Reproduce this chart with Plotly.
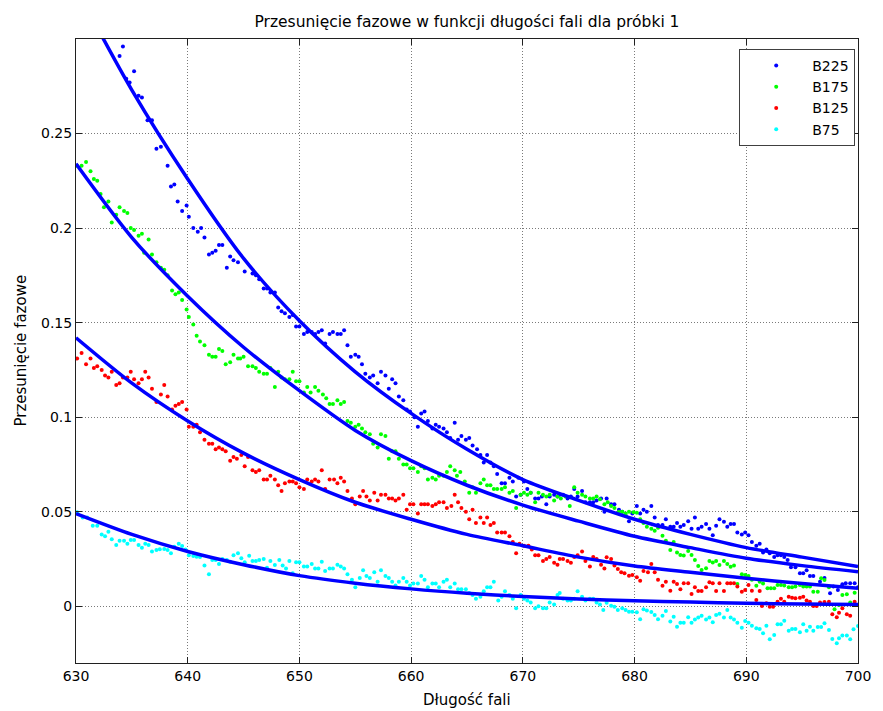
import plotly.graph_objects as go

# ---- data ----
b225_x = [633.9,634.2,634.5,634.8,635.2,635.6,635.9,636.4,636.8,637.2,637.6,638.2,638.5,638.8,639.1,639.5,639.9,640.1,640.5,640.9,
          641.2,641.5,641.9,642.2,642.5,642.8,643.1,643.5,643.8,644.1,644.5,645.1,645.8,646.1,646.4,646.8,647.1,647.4,647.8,648.1,
          648.4,648.7,649.1,649.4,649.7,650.0,650.4,650.7,651.1,651.4,651.7,652.0,652.3,652.7,653.0,653.4,653.7,654.0,654.3,654.6,
          655.0,655.3,655.6,655.9,656.3,656.6,657.0,657.3,657.7,658.0,658.3,658.6,658.9,659.3,659.6,659.9,660.3,660.6,660.9,661.2,
          661.5,661.9,662.2,662.5,662.9,663.2,663.5,663.9,664.2,664.5,664.9,665.2,665.5,665.9,666.2,666.5,666.8,667.1,667.4,667.7,
          668.1,668.4,668.8,669.1,669.4,669.6,669.8,670.1,670.4,670.7,671.1,671.4,671.7,672.1,672.4,672.8,673.1,673.3,673.6,674.0,
          674.3,674.6,674.9,675.3,675.6,676.0,676.3,676.6,677.0,677.3,677.5,677.9,678.2,678.6,678.9,679.2,679.5,679.8,680.2,680.5,
          680.8,681.1,681.5,681.8,682.1,682.5,682.8,683.2,683.5,683.8,684.1,684.4,684.8,685.1,685.4,685.7,686.0,686.4,686.7,687.0,
          687.3,687.6,688.0,688.3,688.6,688.9,689.2,689.6,689.9,690.2,690.5,690.9,691.2,691.5,691.8,692.1,692.5,692.8,693.1,693.4,
          693.7,694.0,694.4,694.8,695.1,695.4,695.7,696.0,696.6,697.0,697.5,697.8,698.2,698.6,698.9,699.3,699.7,700.0]
b225_y = [0.291,0.296,0.279,0.277,0.283,0.270,0.269,0.257,0.257,0.242,0.243,0.233,0.222,0.223,0.214,0.209,0.212,0.206,0.200,0.198,
          0.200,0.195,0.186,0.187,0.188,0.191,0.191,0.179,0.185,0.183,0.182,0.177,0.176,0.175,0.173,0.168,0.168,0.166,0.166,0.158,
          0.156,0.155,0.153,0.154,0.148,0.148,0.144,0.145,0.145,0.144,0.145,0.146,0.139,0.144,0.145,0.144,0.144,0.146,0.138,0.132,
          0.133,0.132,0.128,0.123,0.121,0.122,0.118,0.124,0.122,0.115,0.120,0.118,0.111,0.109,0.104,0.103,0.100,0.095,0.102,0.103,
          0.098,0.094,0.096,0.095,0.094,0.092,0.089,0.097,0.088,0.090,0.088,0.089,0.085,0.083,0.080,0.076,0.080,0.076,0.074,0.070,
          0.065,0.065,0.068,0.066,0.058,0.068,0.059,0.066,0.062,0.060,0.057,0.057,0.058,0.054,0.058,0.059,0.058,0.059,0.059,0.057,
          0.058,0.062,0.058,0.061,0.055,0.055,0.055,0.056,0.057,0.050,0.057,0.054,0.054,0.051,0.050,0.048,0.045,0.049,0.053,0.049,
          0.051,0.050,0.053,0.047,0.043,0.043,0.046,0.042,0.042,0.044,0.042,0.043,0.045,0.041,0.047,0.041,0.042,0.0435,0.041,0.0375,
          0.0426,0.046,0.0447,0.042,0.0435,0.0435,0.039,0.038,0.039,0.0375,0.034,0.032,0.033,0.0285,0.030,0.028,0.026,0.027,0.027,0.026,
          0.0245,0.0206,0.0206,0.0174,0.0174,0.019,0.016,0.016,0.013,0.015,0.0069,0.0104,0.0086,0.0116,0.0122,0.0122,0.0122,0.010]

b175_x = [630.1,630.5,630.9,631.3,631.6,631.9,632.2,632.5,632.9,633.2,633.6,633.9,634.3,634.6,634.9,635.2,635.6,635.9,636.1,636.5,
          636.8,637.2,637.6,637.9,638.2,638.6,638.9,639.2,639.5,639.9,640.1,640.5,640.8,641.1,641.5,641.9,642.2,642.5,642.8,643.1,
          643.4,643.8,644.1,644.5,644.7,645.0,645.4,645.8,646.1,646.4,646.8,647.1,647.4,647.8,648.1,648.4,648.7,649.1,649.4,649.7,
          650.0,650.4,650.7,651.0,651.4,651.7,652.1,652.4,652.7,653.0,653.4,653.7,654.0,654.3,654.6,655.0,655.3,655.6,655.9,656.3,
          656.6,657.0,657.3,657.7,658.0,658.3,658.6,658.9,659.3,659.6,659.9,660.2,660.6,660.9,661.2,661.5,661.9,662.2,662.5,662.9,
          663.2,663.5,663.9,664.1,664.4,664.8,665.2,665.5,665.8,666.2,666.5,666.8,667.1,667.4,667.7,668.1,668.4,668.8,669.1,669.4,
          669.8,670.1,670.4,670.7,671.1,671.4,671.8,672.1,672.4,672.8,673.1,673.4,673.8,674.2,674.6,674.9,675.3,675.6,676.0,676.3,
          676.6,676.9,677.3,677.6,677.9,678.2,678.6,678.9,679.2,679.5,679.9,680.2,680.5,680.8,681.1,681.5,681.8,682.1,682.5,682.8,
          683.2,683.5,683.8,684.1,684.4,684.8,685.1,685.4,685.7,686.0,686.4,686.7,687.0,687.3,687.6,688.0,688.3,688.6,688.9,689.2,
          689.6,689.9,690.2,690.5,690.9,691.2,691.5,691.9,692.2,692.5,692.8,693.1,693.4,693.8,694.1,694.4,694.8,695.1,695.4,695.7,
          696.0,696.4,696.7,697.0,697.4,697.9,698.3,698.6,699.0,699.3,699.7]
b175_y = [0.233,0.233,0.235,0.230,0.226,0.225,0.218,0.211,0.214,0.203,0.207,0.211,0.209,0.208,0.200,0.199,0.196,0.197,0.187,0.194,
          0.186,0.182,0.179,0.178,0.175,0.167,0.165,0.166,0.162,0.157,0.153,0.149,0.143,0.140,0.138,0.133,0.132,0.132,0.136,0.135,
          0.128,0.129,0.133,0.131,0.131,0.132,0.127,0.127,0.126,0.124,0.123,0.123,0.126,0.116,0.124,0.121,0.120,0.120,0.124,0.119,
          0.119,0.113,0.116,0.113,0.116,0.114,0.112,0.110,0.107,0.107,0.109,0.107,0.108,0.098,0.097,0.095,0.096,0.094,0.092,0.091,
          0.086,0.084,0.091,0.090,0.078,0.082,0.082,0.078,0.075,0.075,0.073,0.073,0.071,0.074,0.073,0.067,0.068,0.067,0.069,0.069,
          0.071,0.074,0.072,0.069,0.071,0.066,0.060,0.063,0.060,0.065,0.067,0.064,0.064,0.062,0.062,0.062,0.063,0.060,0.061,0.052,
          0.059,0.060,0.059,0.060,0.055,0.060,0.059,0.058,0.059,0.056,0.058,0.057,0.058,0.053,0.063,0.060,0.059,0.058,0.057,0.057,
          0.058,0.0566,0.054,0.055,0.053,0.052,0.050,0.050,0.049,0.050,0.0497,0.0495,0.046,0.044,0.042,0.041,0.040,0.0415,0.0373,0.0347,
          0.0298,0.034,0.0285,0.0271,0.0268,0.0292,0.0271,0.0245,0.0213,0.0192,0.0201,0.024,0.0232,0.024,0.0218,0.024,0.0224,0.0209,0.0215,0.0118,
          0.0169,0.0165,0.016,0.014,0.0109,0.013,0.012,0.0095,0.0095,0.0095,0.0113,0.0113,0.011,0.010,0.010,0.0104,0.0113,0.0105,0.0104,0.0104,
          0.0077,0.0077,0.0148,0.0139,0.010,-0.0016,0.0007,0.006,0.0063,0.002,0.0072]

b125_x = [630.1,630.5,630.9,631.3,631.6,631.9,632.3,632.6,632.9,633.2,633.6,633.9,634.2,634.6,634.9,635.2,635.6,635.9,636.2,636.5,
          636.8,637.2,637.6,637.9,638.2,638.6,638.9,639.2,639.5,639.9,640.1,640.5,640.8,641.1,641.5,641.9,642.2,642.5,642.8,643.1,
          643.4,643.8,644.1,644.4,644.8,645.1,645.4,645.8,646.1,646.4,646.8,647.1,647.4,647.8,648.1,648.4,648.7,649.1,649.4,649.7,
          650.0,650.4,650.7,651.1,651.4,651.7,652.0,652.3,652.7,653.1,653.4,653.7,654.0,654.3,654.7,655.0,655.4,655.7,656.0,656.3,
          656.7,657.0,657.3,657.7,658.0,658.3,658.6,658.9,659.3,659.6,659.9,660.2,660.6,660.9,661.2,661.5,661.9,662.2,662.5,662.9,
          663.2,663.6,663.9,664.2,664.5,664.9,665.2,665.5,665.8,666.2,666.5,666.8,667.1,667.4,667.7,668.1,668.4,668.8,669.1,669.4,
          669.7,670.1,670.5,670.8,671.1,671.4,671.8,672.1,672.4,672.8,673.1,673.3,673.6,674.0,674.3,674.6,674.9,675.3,675.6,676.0,
          676.3,676.6,677.0,677.3,677.5,677.9,678.2,678.5,678.8,679.1,679.5,679.8,680.2,680.5,680.8,681.2,681.5,681.8,682.1,682.5,
          682.8,683.2,683.5,683.8,684.1,684.4,684.8,685.1,685.4,685.7,686.0,686.4,686.7,687.0,687.3,687.6,688.0,688.3,688.6,688.9,
          689.2,689.6,689.9,690.2,690.5,690.9,691.2,691.4,691.8,692.1,692.4,692.8,693.1,693.4,693.8,694.1,694.4,694.8,695.1,695.4,
          695.7,696.0,696.3,696.6,697.0,697.4,697.7,698.1,698.3,698.6,699.0,699.3,699.7]
b125_y = [0.131,0.134,0.128,0.131,0.126,0.127,0.125,0.122,0.121,0.124,0.117,0.118,0.121,0.121,0.124,0.120,0.118,0.120,0.124,0.121,
          0.115,0.108,0.112,0.117,0.111,0.104,0.106,0.107,0.108,0.104,0.095,0.095,0.096,0.092,0.088,0.086,0.086,0.083,0.084,0.083,
          0.082,0.077,0.079,0.078,0.080,0.074,0.079,0.072,0.071,0.072,0.067,0.067,0.069,0.067,0.064,0.061,0.065,0.066,0.066,0.065,
          0.063,0.062,0.067,0.066,0.067,0.066,0.072,0.062,0.067,0.067,0.065,0.068,0.066,0.061,0.057,0.054,0.058,0.061,0.058,0.056,
          0.060,0.056,0.059,0.059,0.057,0.057,0.056,0.057,0.059,0.051,0.054,0.054,0.049,0.054,0.054,0.054,0.053,0.054,0.055,0.055,
          0.052,0.053,0.059,0.055,0.052,0.050,0.046,0.051,0.044,0.047,0.044,0.047,0.043,0.044,0.039,0.039,0.039,0.037,0.034,0.028,
          0.033,0.032,0.032,0.030,0.027,0.027,0.024,0.025,0.026,0.023,0.022,0.025,0.025,0.024,0.023,0.026,0.027,0.029,0.024,0.021,
          0.026,0.025,0.022,0.020,0.0259,0.025,0.0215,0.0197,0.018,0.0174,0.0162,0.0165,0.0153,0.0135,0.0187,0.018,0.0224,0.018,0.014,0.0109,
          0.013,0.0082,0.013,0.0118,0.009,0.0122,0.0122,0.0065,0.010,0.0081,0.0081,0.010,0.0127,0.0122,0.0081,0.0122,0.0081,0.0122,0.0122,0.0122,
          0.0104,0.0077,0.0086,0.0113,0.0082,0.0033,0.0081,0.0002,0.0016,-0.0002,-0.0002,0.0024,0.004,0.0024,0.0051,0.0045,0.0042,0.0045,0.005,0.003,
          0.0024,0.0002,0.0002,0.002,0.0023,0.0024,-0.0042,-0.0058,-0.0034,-0.001,-0.0042,-0.005,0.0024]

b75_x = [630.1,630.6,631.0,631.5,631.9,632.3,632.6,632.9,633.2,633.6,633.9,634.3,634.6,634.9,635.2,635.6,635.9,636.2,636.5,636.8,
         637.2,637.5,637.9,638.2,638.5,638.8,639.2,639.5,639.8,640.1,640.5,640.8,641.1,641.5,641.9,642.2,642.5,642.8,643.1,643.5,
         643.8,644.1,644.5,644.8,645.1,645.5,645.8,646.1,646.4,646.8,647.1,647.4,647.8,648.2,648.5,648.8,649.1,649.4,649.7,650.0,
         650.4,650.7,651.1,651.4,651.7,652.0,652.3,652.7,653.0,653.4,653.7,654.0,654.3,654.7,655.0,655.4,655.7,656.0,656.3,656.7,
         657.0,657.3,657.7,658.0,658.3,658.6,658.9,659.3,659.6,659.9,660.2,660.6,660.9,661.2,661.5,661.9,662.2,662.5,662.9,663.2,
         663.5,663.9,664.2,664.5,664.9,665.2,665.5,665.8,666.2,666.5,666.8,667.1,667.4,667.8,668.1,668.4,668.8,669.1,669.4,669.8,
         670.1,670.4,670.7,671.1,671.4,671.8,672.1,672.4,672.8,673.1,673.3,673.6,674.0,674.3,674.6,674.9,675.3,675.6,676.0,676.3,
         676.6,676.9,677.2,677.5,677.9,678.2,678.5,678.9,679.2,679.5,679.8,680.2,680.5,680.8,681.1,681.5,681.8,682.1,682.5,682.8,
         683.2,683.5,683.8,684.1,684.4,684.8,685.1,685.4,685.7,686.0,686.4,686.7,687.0,687.3,687.6,688.0,688.3,688.6,688.9,689.2,
         689.6,689.9,690.2,690.5,690.9,691.2,691.5,691.8,692.1,692.5,692.8,693.1,693.4,693.8,694.1,694.4,694.8,695.1,695.4,695.7,
         696.0,696.4,696.7,697.0,697.4,697.7,698.1,698.3,698.6,699.0,699.3,699.6,700.0]
b75_y = [0.0497,0.047,0.047,0.0426,0.0426,0.038,0.037,0.0394,0.0354,0.0324,0.0347,0.0347,0.033,0.035,0.035,0.0324,0.031,0.033,0.0324,0.029,
         0.0298,0.0301,0.0303,0.0298,0.028,0.0315,0.033,0.0319,0.030,0.027,0.0266,0.0262,0.026,0.0215,0.017,0.0245,0.0245,0.0224,0.025,0.0245,
         0.0236,0.027,0.028,0.0254,0.0233,0.0267,0.024,0.024,0.0245,0.025,0.0204,0.024,0.0218,0.0245,0.0215,0.020,0.024,0.0174,0.0233,0.0233,
         0.021,0.021,0.0224,0.020,0.020,0.0236,0.0187,0.020,0.020,0.022,0.021,0.020,0.017,0.014,0.010,0.015,0.019,0.016,0.015,0.018,
         0.013,0.019,0.016,0.015,0.013,0.011,0.013,0.015,0.013,0.011,0.012,0.012,0.016,0.014,0.010,0.012,0.012,0.010,0.013,0.014,
         0.010,0.012,0.009,0.009,0.009,0.007,0.006,0.004,0.005,0.008,0.010,0.010,0.013,0.003,0.005,0.008,0.006,0.004,-0.001,0.006,
         0.004,0.003,0.002,-0.001,0.000,-0.001,-0.001,0.002,0.001,0.006,0.007,0.004,0.003,0.003,0.004,0.008,0.005,0.003,0.004,0.004,
         0.002,0.001,-0.002,0.0019,0.0003,-0.0002,-0.002,-0.001,-0.002,-0.0029,-0.0029,-0.0032,-0.0069,-0.0016,-0.0023,-0.003,-0.0046,-0.0069,-0.005,-0.0025,
         -0.0081,-0.0055,-0.0108,-0.0087,-0.0087,-0.0058,-0.0087,-0.007,-0.006,-0.005,-0.007,-0.006,-0.0085,-0.0046,-0.004,-0.006,-0.002,-0.006,-0.007,-0.0087,
         -0.0113,-0.0078,-0.0087,-0.0103,-0.0116,-0.012,-0.0143,-0.0103,-0.0174,-0.0152,-0.0095,-0.0095,-0.0076,-0.0129,-0.012,-0.012,-0.0137,-0.0095,-0.013,-0.0108,
         -0.013,-0.011,-0.011,-0.009,-0.0125,-0.0173,-0.0196,-0.0169,-0.0155,-0.0155,-0.0174,-0.0122,-0.0104]

# fitted curves (read at 5 nm steps)
fit_x = [630, 635, 640, 645, 650, 655, 660, 665, 670, 675, 680, 685, 690, 695, 700]
fit_b225 = [0.327, 0.273, 0.226, 0.184, 0.151, 0.124, 0.102, 0.083, 0.067, 0.056, 0.046, 0.038, 0.031, 0.026, 0.021]
fit_b175 = [0.234, 0.195, 0.164, 0.137, 0.114, 0.093, 0.077, 0.064, 0.0535, 0.045, 0.037, 0.031, 0.0254, 0.0215, 0.0183]
fit_b125 = [0.142, 0.118, 0.098, 0.081, 0.067, 0.055, 0.046, 0.038, 0.032, 0.026, 0.0213, 0.018, 0.0148, 0.012, 0.0095]
fit_b75 = [0.049, 0.038, 0.029, 0.022, 0.0162, 0.0122, 0.0092, 0.0069, 0.0052, 0.0039, 0.0029, 0.0022, 0.0016, 0.0012, 0.001]

series = [("B225", b225_x, b225_y, "#0000FF"),
          ("B175", b175_x, b175_y, "#00FF00"),
          ("B125", b125_x, b125_y, "#FF0000"),
          ("B75", b75_x, b75_y, "#00FFFF")]
fits = [fit_b225, fit_b175, fit_b125, fit_b75]

FONT = "DejaVu Sans, Arial, Helvetica, sans-serif"

fig = go.Figure()
for name, xs, ys, col in series:
    fig.add_trace(go.Scatter(x=xs, y=ys, mode="markers", name=name,
                             marker=dict(color=col, size=4, symbol="circle", line=dict(width=0))))
for fy in fits:
    fig.add_trace(go.Scatter(x=fit_x, y=fy, mode="lines", showlegend=False,
                             line=dict(color="#0000FF", width=3.5, shape="spline", smoothing=0.8)))

axis_common = dict(showline=True, linecolor="#202020", linewidth=1, mirror="ticks",
                   ticks="inside", ticklen=6, tickcolor="#202020",
                   showgrid=True, gridcolor="#7a7a7a", griddash="1px,2px", gridwidth=1,
                   zeroline=False, tickfont=dict(family=FONT, size=14, color="#000"))

fig.update_layout(
    width=883, height=711,
    margin=dict(l=76, r=18, t=39, b=48),
    paper_bgcolor="white", plot_bgcolor="white",
    font=dict(family=FONT, size=14, color="#000"),
    title=dict(text="Przesunięcie fazowe w funkcji długości fali dla próbki 1",
               x=0.5, xref="paper", y=1 - 22 / 711, yanchor="middle",
               font=dict(family=FONT, size=15.5, color="#000")),
    xaxis=dict(range=[630, 700], tickvals=[630, 640, 650, 660, 670, 680, 690, 700], **axis_common),
    yaxis=dict(range=[-0.03, 0.3], tickvals=[0, 0.05, 0.1, 0.15, 0.2, 0.25],
               ticktext=["0", "0.05", "0.1", "0.15", "0.2", "0.25"], **axis_common),
    showlegend=True,
    legend=dict(x=(746 - 76) / 790, y=(663 - 49) / 624, xanchor="left", yanchor="top",
                bgcolor="white", bordercolor="#404040", borderwidth=1,
                font=dict(family=FONT, size=14, color="#000"), itemwidth=62,
                tracegroupgap=0),
    annotations=[
        dict(text="Długość fali", xref="paper", yref="paper", x=0.5, y=(663 - 700) / 624,
             xanchor="center", yanchor="middle", showarrow=False,
             font=dict(family=FONT, size=15, color="#000")),
        dict(text="Przesunięcie fazowe", xref="paper", yref="paper", x=(20 - 76) / 790, y=0.5,
             xanchor="center", yanchor="middle", showarrow=False, textangle=-90,
             font=dict(family=FONT, size=15, color="#000")),
    ],
)

fig.write_html("out.html")
